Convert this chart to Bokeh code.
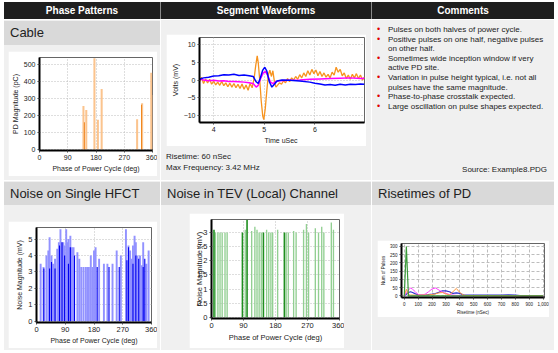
from bokeh.plotting import figure
from bokeh.models import Div, Range1d, FixedTicker, NumeralTickFormatter
from bokeh.layouts import row, column
from bokeh.embed import file_html
from bokeh.resources import INLINE

FONT = "Liberation Sans"
BG = "#f0f0f0"
TITLE_BG = "#d9d9d9"

# ---------------- data ----------------
headers = ["Phase Patterns", "Segment Waveforms", "Comments"]
row2_titles = ["Noise on Single HFCT", "Noise in TEV (Local) Channel", "Risetimes of PD"]

phase_ticks = [0, 90, 180, 270, 360]

# Cable phase pattern (pC)
cable_light_phase = [140, 149, 175, 186, 198, 311, 327, 356, 359]
cable_light_val = [255, 232, 535, 175, 355, 178, 272, 450, 320]
cable_dark_phase = [143, 325]
cable_dark_val = [160, 262]

# Segment waveforms (mV vs uSec)
orange_t = [3.72, 3.76, 3.80, 3.84, 3.88, 3.92, 3.96, 4.00, 4.04, 4.08, 4.12, 4.16, 4.20, 4.24,
            4.28, 4.32, 4.36, 4.40, 4.44, 4.48, 4.52, 4.56, 4.60, 4.64, 4.68, 4.72, 4.76, 4.80,
            4.83, 4.86, 4.88, 4.91, 4.94, 4.97, 4.99, 5.02, 5.05, 5.08, 5.11, 5.14, 5.17, 5.20,
            5.23, 5.26, 5.30, 5.34, 5.38, 5.42, 5.46, 5.50, 5.54, 5.58, 5.62, 5.66, 5.70, 5.74,
            5.78, 5.82, 5.86, 5.90, 5.94, 5.98, 6.02, 6.06, 6.10, 6.14, 6.18, 6.22, 6.26, 6.30,
            6.34, 6.38, 6.42, 6.46, 6.50, 6.54, 6.58, 6.62, 6.66, 6.70, 6.74, 6.78, 6.82, 6.86,
            6.90, 6.94, 6.98]
orange_v = [-0.5, 0.8, -1.0, 0.3, -0.8, 0.2, -1.2, -0.3, -1.4, -0.6, -1.5, -0.4, -1.6, -0.8,
            -1.9, -0.9, -2.0, -1.0, -2.2, -1.2, -2.4, -1.1, -2.6, -1.4, -2.9, -1.0, -2.2, 0.5,
            4.0, 6.8, 5.0, 0.0, -6.0, -10.2, -11.2, -8.0, -3.0, 1.5, 2.8, 1.0, 2.6, -0.5,
            -2.0, -1.5, -0.8, -1.2, -0.2, -0.8, 0.4, -0.5, 0.6, 0.0, 1.0, 0.2, 1.5, 0.6,
            2.0, 1.0, 2.6, 1.4, 3.0, 1.8, 2.8, 1.2, 2.4, 1.0, 2.0, 0.8, 1.6, 0.6,
            2.2, 1.4, 3.6, 2.2, 3.0, 1.2, 2.0, 0.4, 1.4, 0.2, 1.6, 0.6, 1.8, 0.4,
            1.4, 0.0, 0.8]
blue_t = [3.72, 3.80, 3.90, 4.00, 4.10, 4.20, 4.30, 4.40, 4.50, 4.60, 4.70, 4.78, 4.84, 4.88,
          4.92, 4.97, 5.01, 5.05, 5.10, 5.15, 5.20, 5.25, 5.35, 5.50, 5.70, 5.90, 6.00, 6.10,
          6.20, 6.30, 6.40, 6.50, 6.60, 6.70, 6.80, 6.90, 6.98]
blue_v = [0.2, 0.6, 0.8, 1.1, 1.2, 1.5, 1.4, 1.6, 1.3, 1.4, 1.2, 1.0, -0.5, -1.0,
          0.5, 2.8, 3.6, 2.5, -0.5, -2.0, -1.2, -0.3, 0.0, -0.1, -0.3, -0.6, -0.9, -1.1,
          -1.4, -1.3, -1.5, -1.2, -1.4, -1.2, -1.3, -1.1, -1.2]
mag_t = [3.72, 3.80, 3.90, 4.00, 4.10, 4.20, 4.30, 4.40, 4.50, 4.60, 4.70, 4.78, 4.84, 4.88,
         4.93, 4.98, 5.02, 5.06, 5.12, 5.17, 5.22, 5.30, 5.50, 5.70, 5.90, 6.10, 6.30, 6.50,
         6.70, 6.90, 6.98]
mag_v = [0.3, 0.0, -0.2, -0.1, -0.3, -0.2, -0.4, -0.4, -0.5, -0.6, -0.8, -1.0, -2.0, -1.5,
         0.5, 2.0, 2.4, 1.5, -0.5, -1.0, -0.5, -0.2, -0.1, 0.0, 0.2, 0.3, 0.4, 0.5,
         0.6, 0.4, 0.5]
wave_xticks = [4, 5, 6]
wave_yticks = [-10, -5, 0, 5, 10]
risetime_text = ["Risetime: 60 nSec", "Max Frequency: 3.42 MHz"]

comments = [
    ["Pulses on both halves of power cycle."],
    ["Positive pulses on one half, negative pulses", "on other half."],
    ["Sometimes wide inception window if very", "active PD site."],
    ["Variation in pulse height typical, i.e. not all", "pulses have the same magnitude."],
    ["Phase-to-phase crosstalk expected."],
    ["Large oscillation on pulse shapes expected."],
]
source_text = "Source: Example8.PDG"

# Noise on single HFCT (mV)
hfct_light_phase = [13, 22, 31, 37, 41, 47, 52, 58, 65, 70, 75, 78, 84, 88, 93, 96, 100, 103, 106, 111,
                    116, 128, 134, 140, 147, 154, 159, 164, 170, 175, 180, 185, 196, 211, 222, 238, 251,
                    264, 280, 288, 293, 297, 302, 307, 311, 316, 324, 330, 334, 344, 351]
hfct_light_val = [3.5, 3.3, 4.0, 4.3, 5.1, 4.0, 3.5, 3.8, 4.4, 4.8, 5.6, 4.8, 4.8, 4.6, 5.6, 4.8, 5.0, 4.5, 5.2, 4.5,
                  4.5, 4.2, 3.8, 3.3, 3.3, 3.3, 3.3, 3.3, 4.0, 3.3, 4.3, 4.5, 3.8, 3.5, 3.5, 3.5, 4.3,
                  4.0, 5.6, 4.6, 4.3, 3.8, 4.6, 5.2, 4.8, 4.0, 4.0, 3.4, 4.8, 3.5, 4.3]
hfct_dark_phase = [23, 41, 47, 58, 72, 80, 88, 100, 106, 119, 190, 227, 259, 283, 288, 302, 311, 320, 334, 339]
hfct_dark_val = [3.2, 3.2, 3.6, 3.2, 4.6, 4.8, 4.0, 3.5, 4.5, 4.0, 3.3, 3.3, 3.3, 3.7, 4.5, 3.5, 4.0, 3.8, 3.3, 3.8]

# Noise in TEV channel (mV)
tev_dark_phase = [7, 87, 100, 146, 205]
tev_dark_val = [3.1, 3.0, 3.45, 3.0, 3.0]
tev_light_phase = [11, 18, 24, 30, 38, 44, 95, 113, 122, 128, 134, 140, 155, 161, 167, 172, 186, 210, 216,
                   231, 238, 259, 267, 273, 292, 301, 310, 316, 337, 343]
tev_light_val = [3.0, 3.0, 3.0, 3.0, 3.0, 3.0, 3.1, 3.05, 3.2, 3.1, 3.0, 3.0, 3.1, 3.0, 3.0, 3.0, 3.1, 3.0, 3.0,
                 3.05, 3.0, 3.1, 3.3, 3.0, 3.15, 3.0, 3.2, 3.0, 3.35, 3.1]
tev_yticks = [0, 0.5, 1, 1.5, 2, 2.5, 3]

# Risetimes of PD
rise_x = [0, 15, 30, 45, 60, 80, 100, 125, 150, 175, 200, 225, 250, 275, 300, 325, 350, 375, 400, 425,
          450, 500, 550, 600, 650, 700, 750, 800, 850, 900, 950, 1000]
rise_green = [0, 300, 0, 0, 0, 0, 0, 0, 0, 0, 0, 0, 0, 0, 0, 0, 0, 0, 0, 0,
              0, 0, 0, 0, 0, 0, 0, 0, 0, 0, 0, 0]
rise_orange = [0, 40, 8, 5, 5, 4, 4, 5, 5, 6, 8, 12, 18, 20, 12, 6, 25, 45, 20, 5,
               2, 2, 2, 2, 1, 1, 1, 0, 0, 0, 0, 0]
rise_magenta = [0, 20, 35, 48, 40, 25, 8, 5, 10, 25, 42, 48, 35, 22, 15, 8, 5, 3, 2, 2,
                1, 1, 1, 1, 0, 0, 0, 0, 0, 0, 0, 0]
rise_blue = [0, 10, 20, 25, 20, 12, 6, 4, 5, 8, 10, 14, 22, 30, 30, 25, 15, 18, 15, 6,
             5, 5, 5, 5, 5, 5, 6, 5, 0, 0, 0, 0]
rise_xticks = [0, 100, 200, 300, 400, 500, 600, 700, 800, 900, 1000]
rise_yticks = [0, 50, 100, 150, 200, 250, 300]


# ---------------- helpers ----------------
def mkfig(w, h, xr, yr, l, r, t, b, margin):
    p = figure(width=w, height=h, x_range=Range1d(*xr), y_range=Range1d(*yr),
               output_backend="svg", toolbar_location=None,
               min_border_left=l, min_border_right=r, min_border_top=t, min_border_bottom=b,
               background_fill_color="white", border_fill_color="white")
    p.margin = margin
    p.outline_line_color = "#666666"
    p.outline_line_width = 1
    p.grid.grid_line_color = "#bdbdbd"
    p.grid.grid_line_dash = "1 2"
    return p


def style_axes(p, tick_px, label_px, xlabel, ylabel):
    p.xaxis.axis_label = xlabel
    p.yaxis.axis_label = ylabel
    for ax in (p.xaxis[0], p.yaxis[0]):
        ax.axis_line_width = 2
        ax.axis_line_color = "black"
        ax.major_tick_line_color = "#444444"
        ax.major_tick_out = 2
        ax.major_tick_in = 0
        ax.minor_tick_line_color = None
        ax.major_label_text_font = FONT
        ax.major_label_text_font_size = f"{tick_px}px"
        ax.major_label_text_color = "#222222"
        ax.axis_label_text_font = FONT
        ax.axis_label_text_font_size = f"{label_px}px"
        ax.axis_label_text_font_style = "normal"
        ax.axis_label_text_color = "#222222"
        ax.major_label_standoff = 2
        ax.axis_label_standoff = 2


def title_div(text, w):
    html = (f'<div style="width:{w}px;height:23px;line-height:23px;padding-left:6px;'
            f'font-family:\'{FONT}\';font-size:13px;color:#222;white-space:nowrap;">{text}</div>')
    return Div(text=html, width=w, height=23, margin=(1, 0, 0, 0),
               styles={"background-color": TITLE_BG})


# ---------------- header ----------------
hw = [157, 211, 182]
cells = "".join(
    f'<div style="width:{w}px;box-sizing:border-box;text-align:center;line-height:17px;'
    f'{"border-right:1px solid #8a8a8a;" if i < 2 else ""}">{t}</div>'
    for i, (t, w) in enumerate(zip(headers, hw)))
header = Div(text=(f'<div style="display:flex;width:550px;height:17px;background:#1e1e1e;color:white;'
                   f'font-family:\'{FONT}\';font-weight:bold;font-size:10px;">{cells}</div>'),
             width=550, height=17, margin=(2, 0, 0, 4))

# ---------------- row 1 ----------------
cable_title = Div(text=(f'<div style="width:156px;height:24px;line-height:24px;padding-left:6px;'
                        f'font-family:\'{FONT}\';font-size:13px;color:#222;">Cable</div>'),
                  width=156, height=24, margin=(1, 0, 0, 0), styles={"background-color": TITLE_BG})
p_cable = mkfig(149, 125, (0, 360), (-6, 540), 30, 5, 6, 26, (6, 0, 0, 4))
p_cable.vbar(x=cable_light_phase, top=cable_light_val, bottom=0, width=6.5,
             fill_color="#fbc48e", line_color=None)
p_cable.vbar(x=cable_dark_phase, top=cable_dark_val, bottom=0, width=3,
             fill_color="#f08419", line_color=None)
style_axes(p_cable, 7, 7, "Phase of Power Cycle (deg)", "PD Magnitude (pC)")
p_cable.xaxis.ticker = FixedTicker(ticks=phase_ticks)
p_cable.yaxis.ticker = FixedTicker(ticks=[0, 100, 200, 300, 400, 500])
cell11 = column(cable_title, p_cable, width=156, height=160, margin=0,
                styles={"background-color": BG})

p_wave = mkfig(200, 112, (3.72, 6.98), (-12, 12), 33, 2, 3, 22, (14, 0, 0, 5))
p_wave.line(orange_t, orange_v, line_color="#f7931e", line_width=1.3)
p_wave.line(mag_t, mag_v, line_color="#ff00ff", line_width=1.5)
p_wave.line(blue_t, blue_v, line_color="#0000ff", line_width=1.5)
style_axes(p_wave, 7, 7, "Time  uSec", "Volts (mV)")
p_wave.xaxis.ticker = FixedTicker(ticks=wave_xticks)
p_wave.yaxis.ticker = FixedTicker(ticks=wave_yticks)
wave_txt = Div(text=(f'<div style="font-family:\'{FONT}\';font-size:8px;line-height:11px;color:#222;'
                     f'white-space:nowrap;">{risetime_text[0]}<br>{risetime_text[1]}</div>'),
               width=200, height=22, margin=(5, 0, 0, 5))
cell12 = column(p_wave, wave_txt, width=210, height=160, margin=(0, 0, 0, 1),
                styles={"background-color": BG})

items = "".join(
    '<div style="display:flex;"><div style="width:11px;color:#e00000;font-size:9px;">&#8226;</div>'
    f'<div>{"<br>".join(lines)}</div></div>' for lines in comments)
comm_html = (f'<div style="position:relative;width:182px;height:160px;font-family:\'{FONT}\';'
             f'font-size:8px;color:#222;white-space:nowrap;">'
             f'<div style="position:absolute;left:5px;top:5px;line-height:9.6px;">{items}</div>'
             f'<div style="position:absolute;right:7px;top:145px;line-height:10px;">{source_text}</div></div>')
comm_div = Div(text=comm_html, width=182, height=160, margin=0)
cell13 = column(comm_div, width=182, height=160, margin=(0, 0, 0, 1),
                styles={"background-color": BG})

row1 = row(cell11, cell12, cell13, width=550, height=160, margin=(1, 0, 0, 4))

# ---------------- row 2 ----------------
p_hfct = mkfig(149, 127, (0, 360), (-0.08, 5.7), 28, 6, 6, 26, (16, 0, 0, 4))
p_hfct.vbar(x=hfct_light_phase, top=hfct_light_val, bottom=0, width=6,
            fill_color="#9292ff", line_color=None)
p_hfct.vbar(x=hfct_dark_phase, top=hfct_dark_val, bottom=0, width=3.5,
            fill_color="#0000f0", line_color=None)
style_axes(p_hfct, 7.5, 7, "Phase of Power Cycle (deg)", "Noise Magnitude (mV)")
p_hfct.xaxis.ticker = FixedTicker(ticks=phase_ticks)
p_hfct.yaxis.ticker = FixedTicker(ticks=[0, 1, 2, 3, 4, 5])
cell21 = column(title_div(row2_titles[0], 156), p_hfct, width=156, height=169, margin=0,
                styles={"background-color": BG})

p_tev = mkfig(155, 135, (0, 360), (-0.04, 3.46), 22, 5, 6, 30, (8, 0, 0, 28))
p_tev.vbar(x=tev_light_phase, top=tev_light_val, bottom=0, width=3.8,
           fill_color="#92cf92", line_color=None)
p_tev.vbar(x=tev_dark_phase, top=tev_dark_val, bottom=0, width=4.5,
           fill_color="#1f8f1f", line_color=None)
style_axes(p_tev, 7.5, 7.5, "Phase of Power Cycle (deg)", "Noise Magnitude (mV)")
p_tev.xaxis.ticker = FixedTicker(ticks=phase_ticks)
p_tev.yaxis.ticker = FixedTicker(ticks=tev_yticks)
p_tev.yaxis.major_label_overrides = {0: "0", 0.5: "0.5", 1: "1", 1.5: "1.5", 2: "2", 2.5: "2.5", 3: "3"}
p_tev.yaxis.axis_label_standoff = -10
cell22 = column(title_div(row2_titles[1], 210), p_tev, width=210, height=169, margin=(0, 0, 0, 1),
                styles={"background-color": BG})

p_rise = mkfig(172, 77, (-20, 1010), (-10, 318), 22, 5, 3, 20, (35, 0, 0, 5))
p_rise.grid.grid_line_dash = "3 2"
p_rise.line(rise_x, rise_blue, line_color="#3030d0", line_width=1.2)
p_rise.line(rise_x, rise_magenta, line_color="#ff40ff", line_width=1)
p_rise.line(rise_x, rise_orange, line_color="#ff9a40", line_width=1)
p_rise.line(rise_x, rise_green, line_color="#3a9a3a", line_width=1.2)
style_axes(p_rise, 4.5, 4.5, "Risetime (nSec)", "Num of Pulses")
p_rise.xaxis.ticker = FixedTicker(ticks=rise_xticks)
p_rise.yaxis.ticker = FixedTicker(ticks=rise_yticks)
p_rise.xaxis.formatter = NumeralTickFormatter(format="0,0")
p_rise.xaxis.axis_label_standoff = 1
p_rise.yaxis.axis_label_standoff = 1
cell23 = column(title_div(row2_titles[2], 182), p_rise, width=182, height=169, margin=(0, 0, 0, 1),
                styles={"background-color": BG})

row2 = row(cell21, cell22, cell23, width=550, height=169, margin=(1, 0, 0, 4))

root = column(header, row1, row2, width=558, height=353, margin=0,
              styles={"background-color": "white"})

open("out.html", "w").write(file_html(root, INLINE))
